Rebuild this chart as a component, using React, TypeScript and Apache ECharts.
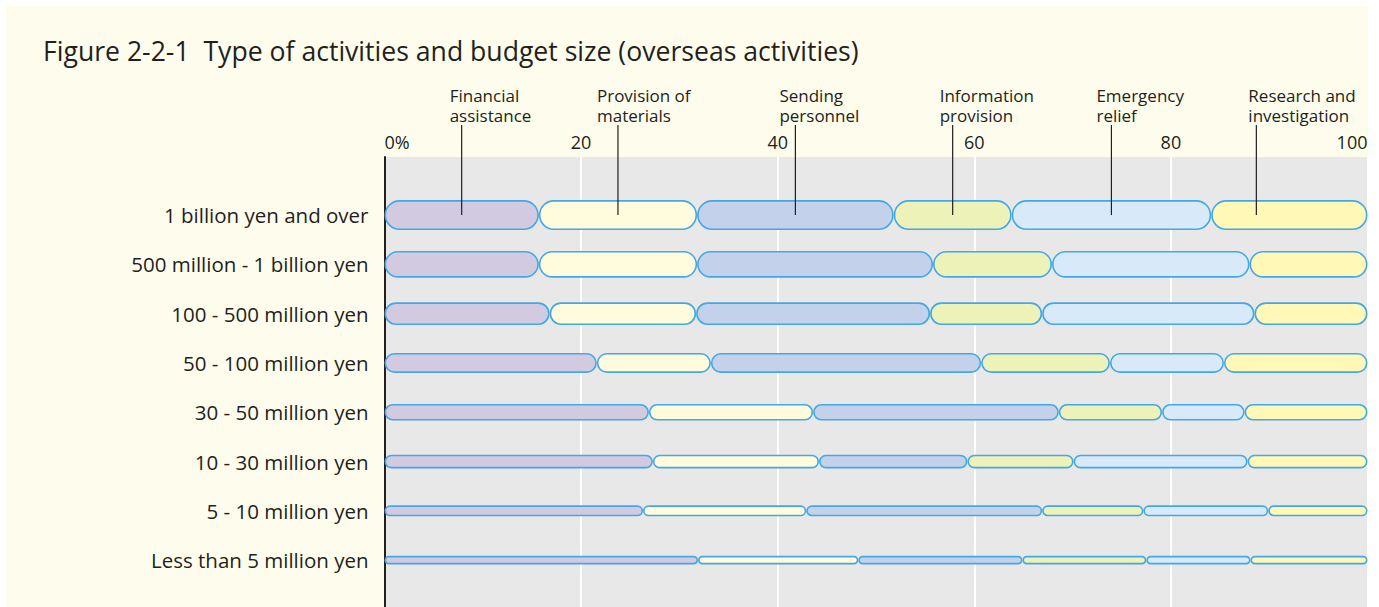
import React, { useEffect, useRef } from "react";
import * as echarts from "echarts";

const TITLE = "Figure 2-2-1  Type of activities and budget size (overseas activities)";

const categories = [
  "1 billion yen and over",
  "500 million - 1 billion yen",
  "100 - 500 million yen",
  "50 - 100 million yen",
  "30 - 50 million yen",
  "10 - 30 million yen",
  "5 - 10 million yen",
  "Less than 5 million yen",
];

const activities = [
  "Financial\nassistance",
  "Provision of\nmaterials",
  "Sending\npersonnel",
  "Information\nprovision",
  "Emergency\nrelief",
  "Research and\ninvestigation",
];

// percentage shares per budget size (rows in category order)
const financialAssistance = [15.7, 15.7, 16.8, 21.6, 26.9, 27.3, 26.3, 31.9];
const provisionOfMaterials = [16.1, 16.1, 14.9, 11.6, 16.7, 16.9, 16.6, 16.3];
const sendingPersonnel = [20.0, 24.0, 23.8, 27.5, 25.0, 15.1, 24.0, 16.7];
const informationProvision = [12.0, 12.1, 11.4, 13.1, 10.5, 10.8, 10.3, 12.6];
const emergencyRelief = [20.3, 20.1, 21.6, 11.6, 8.4, 17.7, 12.7, 10.6];
const researchAndInvestigation = [15.9, 12.0, 11.5, 14.6, 12.5, 12.2, 10.1, 11.9];

const xTicks = [0, 20, 40, 60, 80, 100];

// styling
const COLORS = ["#d2cae0", "#fffbdc", "#c4d1eb", "#ecf2b8", "#d8eaf9", "#fff8b6"];
const BORDER = "#42a8e6";
const BAR_HEIGHTS = [30, 26.7, 22.7, 20, 16.7, 13.7, 11, 8.6];
const LINE_DX = [0, 0, 0, 0, 0, -33];
const LABEL_DX = [-12, -21, -16, -13, -15, -8];
const FONT = "'Open Sans', 'Noto Sans', sans-serif";
const TEXT = "#231f20";

const seriesValues = [
  financialAssistance,
  provisionOfMaterials,
  sendingPersonnel,
  informationProvision,
  emergencyRelief,
  researchAndInvestigation,
];

export default function App() {
  const ref = useRef<HTMLDivElement>(null);

  useEffect(() => {
    if (!ref.current) return;
    const chart = echarts.init(ref.current, undefined, { renderer: "svg" });

    // cumulative starts/ends
    const cum = categories.map(() => 0);
    const seriesData = seriesValues.map((vals) =>
      vals.map((v, ci) => {
        const s = cum[ci];
        cum[ci] = s + v;
        return [ci, s, s + v];
      })
    );

    const left = 384.5;
    const right = 1379 - 1367.5;

    const series: any[] = seriesData.map((data, si) => ({
      type: "custom",
      name: activities[si],
      xAxisIndex: 1,
      yAxisIndex: 1,
      encode: { x: [1, 2], y: 0 },
      data,
      renderItem: (params: any, api: any) => {
        const ci = api.value(0);
        const p0 = api.coord([api.value(1), ci]);
        const p1 = api.coord([api.value(2), ci]);
        const h = BAR_HEIGHTS[ci];
        const bw = 1.6;
        const children: any[] = [
          {
            type: "rect",
            shape: {
              x: p0[0] + bw / 2,
              y: p0[1] - h / 2 + bw / 2,
              width: p1[0] - p0[0] - bw,
              height: h - bw,
              r: (h - bw) / 2,
            },
            style: { fill: COLORS[si], stroke: BORDER, lineWidth: bw },
          },
        ];
        if (ci === 0) {
          const cx = (p0[0] + p1[0]) / 2 + LINE_DX[si];
          const cy = p0[1];
          children.push({
            type: "line",
            shape: { x1: cx, y1: cy - 90, x2: cx, y2: cy },
            style: { stroke: "#231f20", lineWidth: 1.2 },
            z2: 10,
          });
          children.push({
            type: "text",
            x: cx + LABEL_DX[si],
            y: cy - 90,
            style: {
              text: activities[si],
              fontSize: 17,
              lineHeight: 20,
              fontFamily: FONT,
              fill: TEXT,
              align: "left",
              verticalAlign: "bottom",
            },
            z2: 10,
          });
        }
        return { type: "group", children };
      },
    }));

    chart.setOption({
      animation: false,
      backgroundColor: "#ffffff",
      textStyle: { fontFamily: FONT },
      title: {
        text: TITLE,
        left: 38,
        top: 32,
        textStyle: { fontSize: 26.6, fontWeight: "normal", color: TEXT, fontFamily: FONT },
      },
      graphic: [
        {
          type: "rect",
          z: -10,
          silent: true,
          shape: { x: 6, y: 6, width: 1362, height: 601 },
          style: { fill: "#fefded" },
        },
      ],
      grid: [
        {
          left,
          right,
          top: 157,
          bottom: 0,
          show: true,
          backgroundColor: "#e8e8e8",
          borderWidth: 0,
        },
        {
          left,
          right,
          top: 190.4,
          height: 394.4,
        },
      ],
      xAxis: [
        {
          gridIndex: 0,
          type: "value",
          position: "top",
          min: 0,
          max: 100,
          interval: 20,
          axisLine: { show: false },
          axisTick: { show: false },
          splitLine: { show: true, lineStyle: { color: "#ffffff", width: 2 } },
          axisLabel: {
            fontSize: 18,
            color: TEXT,
            margin: 6,
            fontFamily: FONT,
            alignMinLabel: "left",
            alignMaxLabel: "right",
            formatter: (v: number) => (v === xTicks[0] ? `${v}%` : `${v}`),
          },
        },
        {
          gridIndex: 1,
          type: "value",
          min: 0,
          max: 100,
          show: false,
        },
      ],
      yAxis: [
        {
          gridIndex: 0,
          type: "value",
          axisLine: { show: true, lineStyle: { color: "#231f20", width: 2 } },
          axisTick: { show: false },
          axisLabel: { show: false },
          splitLine: { show: false },
        },
        {
          gridIndex: 1,
          type: "category",
          inverse: true,
          data: categories,
          axisLine: { show: false },
          axisTick: { show: false },
          splitLine: { show: false },
          axisLabel: {
            fontSize: 20.5,
            color: TEXT,
            margin: 16,
            fontFamily: FONT,
          },
        },
      ],
      series,
    });

    return () => chart.dispose();
  }, []);

  return (
    <div
      ref={ref}
      style={{ position: "absolute", left: 0, top: 0, width: 1379, height: 607 }}
    />
  );
}
